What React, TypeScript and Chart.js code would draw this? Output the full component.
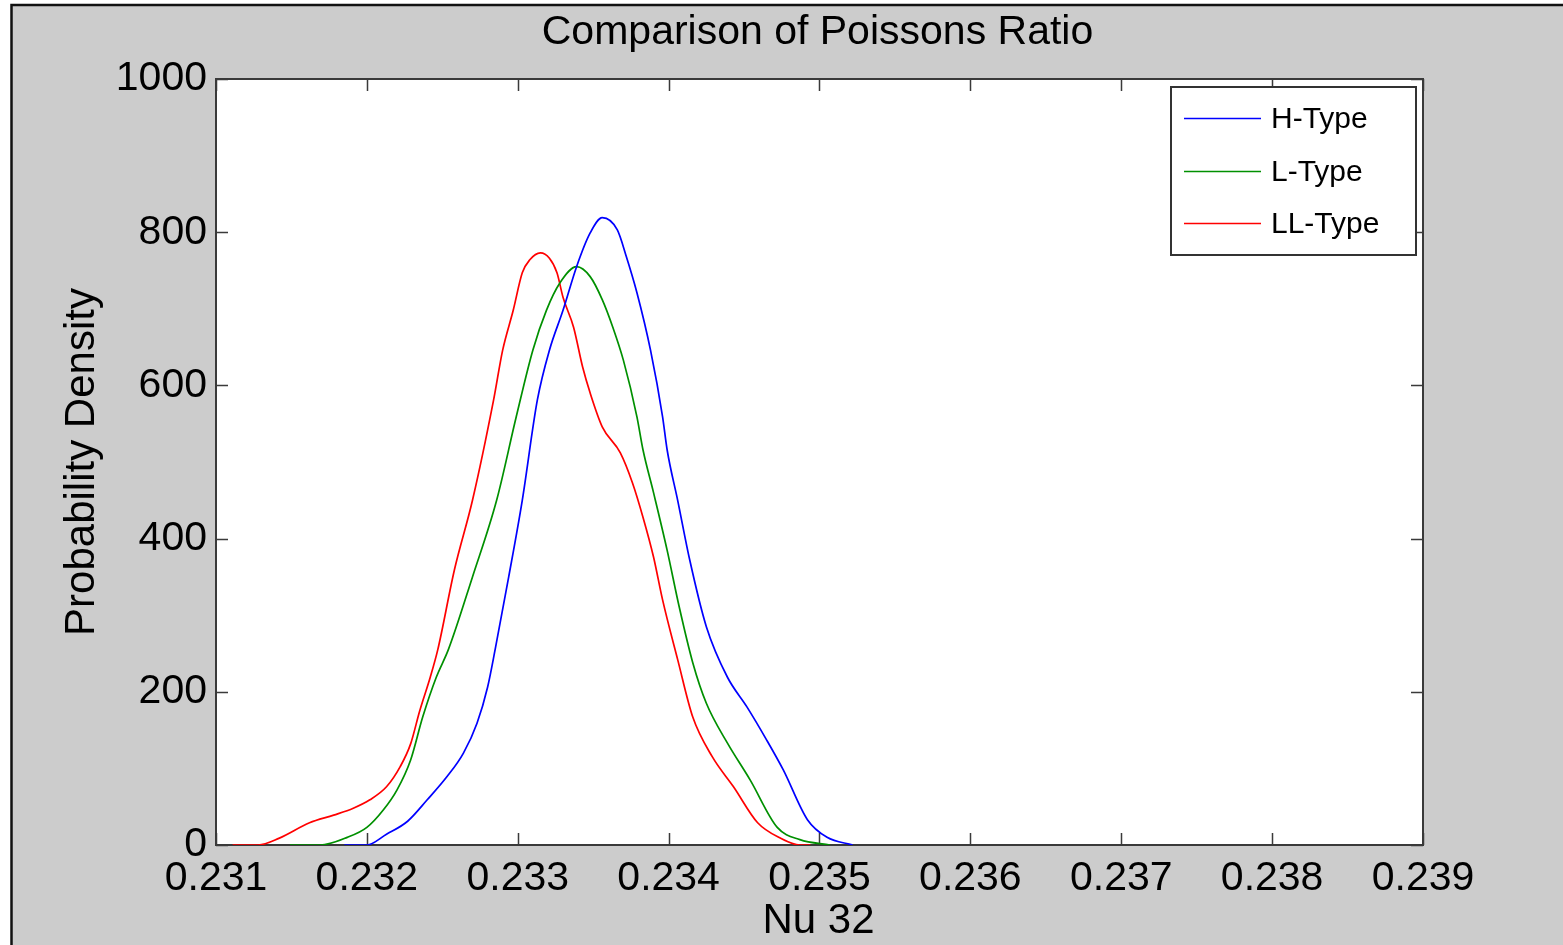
import React, { useEffect, useRef } from 'react';
import { Chart, registerables } from 'chart.js';

Chart.register(...registerables);

const FONT = '"Liberation Sans", Arial, sans-serif';

const chartTitle = 'Comparison of Poissons Ratio';
const xAxisTitle = 'Nu 32';
const yAxisTitle = 'Probability Density';

const xTicks = [0.231, 0.232, 0.233, 0.234, 0.235, 0.236, 0.237, 0.238, 0.239];
const yTicks = [0, 200, 400, 600, 800, 1000];

const seriesLabels = ['H-Type', 'L-Type', 'LL-Type'];
const seriesColors = ['#0000ff', '#009000', '#ff0000'];

const hTypeX = [0.23185, 0.232, 0.23213, 0.23227, 0.2324, 0.23253, 0.23264, 0.23273, 0.2328, 0.23285, 0.23294, 0.23303, 0.23313, 0.23321, 0.2333, 0.23339, 0.23348, 0.23356, 0.23366, 0.23372, 0.23379, 0.23388, 0.23396, 0.23399, 0.23406, 0.23414, 0.23425, 0.23439, 0.23452, 0.23465, 0.23476, 0.23492, 0.23505, 0.23522];
const hTypeY = [0, 0, 14, 31, 59, 89, 120, 159, 206, 255, 350, 450, 581, 646, 698, 755, 799, 819, 803, 768, 721, 646, 559, 516, 450, 372, 285, 219, 180, 137, 98, 33, 10, 0];

const lTypeX = [0.23149, 0.23169, 0.23187, 0.232, 0.23211, 0.2322, 0.23229, 0.23237, 0.23246, 0.23254, 0.2327, 0.23286, 0.23299, 0.2331, 0.23319, 0.23328, 0.23339, 0.23348, 0.23356, 0.23363, 0.2337, 0.23379, 0.23383, 0.2339, 0.23399, 0.23407, 0.23416, 0.23425, 0.23439, 0.23454, 0.23472, 0.23487, 0.23507];
const lTypeY = [0, 0, 10, 23, 46, 72, 111, 167, 219, 255, 350, 450, 559, 646, 698, 734, 755, 742, 712, 676, 633, 559, 516, 460, 385, 311, 238, 185, 133, 85, 23, 7, 0];

const llTypeX = [0.23111, 0.23128, 0.23142, 0.23162, 0.23178, 0.23191, 0.23202, 0.23213, 0.23222, 0.23229, 0.23235, 0.23242, 0.23247, 0.23258, 0.2327, 0.23284, 0.2329, 0.23297, 0.23303, 0.23308, 0.23315, 0.23321, 0.23326, 0.2333, 0.23337, 0.23343, 0.23348, 0.23356, 0.23368, 0.23376, 0.23383, 0.2339, 0.23396, 0.23406, 0.23416, 0.23429, 0.23443, 0.23459, 0.23474, 0.23487, 0.23494];
const llTypeY = [0, 0, 9, 29, 39, 48, 59, 76, 102, 132, 175, 219, 255, 359, 450, 581, 646, 698, 747, 764, 773, 766, 747, 715, 676, 624, 590, 546, 512, 473, 428, 376, 320, 242, 167, 115, 76, 29, 9, 0, 0];

const seriesX = [hTypeX, lTypeX, llTypeX];
const seriesY = [hTypeY, lTypeY, llTypeY];

const framePlugin = {
  id: 'matlabFrame',
  beforeDraw(chart: any) {
    const { ctx, width, height, chartArea } = chart;
    ctx.save();
    ctx.fillStyle = '#ffffff';
    ctx.fillRect(0, 0, width, height);
    ctx.fillStyle = '#cccccc';
    ctx.fillRect(12, 5, width - 12, height - 5);
    ctx.strokeStyle = '#111111';
    ctx.lineWidth = 2.5;
    ctx.beginPath();
    ctx.moveTo(11.5, height);
    ctx.lineTo(11.5, 5);
    ctx.lineTo(width, 5);
    ctx.stroke();
    ctx.fillStyle = '#ffffff';
    ctx.fillRect(chartArea.left, chartArea.top, chartArea.right - chartArea.left, chartArea.bottom - chartArea.top);
    ctx.restore();
  },
  beforeDatasetsDraw(chart: any) {
    const { ctx, chartArea, scales } = chart;
    const { left, right, top, bottom } = chartArea;
    ctx.save();
    ctx.strokeStyle = '#3a3a3a';
    ctx.lineWidth = 2;
    ctx.strokeRect(left, top, right - left, bottom - top);
    ctx.lineWidth = 1.5;
    const tl = 12;
    ctx.beginPath();
    xTicks.forEach((v) => {
      const px = Math.round(scales.x.getPixelForValue(v)) + 0.5;
      ctx.moveTo(px, bottom);
      ctx.lineTo(px, bottom - tl);
      ctx.moveTo(px, top);
      ctx.lineTo(px, top + tl);
    });
    yTicks.forEach((v) => {
      const py = Math.round(scales.y.getPixelForValue(v)) + 0.5;
      ctx.moveTo(left, py);
      ctx.lineTo(left + tl, py);
      ctx.moveTo(right, py);
      ctx.lineTo(right - tl, py);
    });
    ctx.stroke();
    ctx.restore();
  },
  afterDraw(chart: any) {
    const { ctx, chartArea } = chart;
    const cx = (chartArea.left + chartArea.right) / 2;
    const cy = (chartArea.top + chartArea.bottom) / 2;
    ctx.save();
    ctx.fillStyle = '#000000';
    ctx.textAlign = 'center';
    ctx.textBaseline = 'alphabetic';
    ctx.font = `41px ${FONT}`;
    ctx.fillText(chartTitle, cx - 2, 44);
    ctx.font = `42px ${FONT}`;
    ctx.fillText(xAxisTitle, cx - 1, 933);
    ctx.save();
    ctx.translate(94, cy);
    ctx.rotate(-Math.PI / 2);
    ctx.fillText(yAxisTitle, 0, 0);
    ctx.restore();

    // legend
    const bx = 1171, by = 87, bw = 245, bh = 168;
    ctx.fillStyle = '#ffffff';
    ctx.fillRect(bx, by, bw, bh);
    ctx.strokeStyle = '#333333';
    ctx.lineWidth = 2;
    ctx.strokeRect(bx, by, bw, bh);
    const rows = [118, 171, 223];
    ctx.font = `30px ${FONT}`;
    ctx.textAlign = 'left';
    ctx.textBaseline = 'middle';
    chart.data.datasets.forEach((ds: any, i: number) => {
      const y = rows[i];
      ctx.strokeStyle = ds.borderColor;
      ctx.lineWidth = 1.6;
      ctx.beginPath();
      ctx.moveTo(1184, y + 0.5);
      ctx.lineTo(1261, y + 0.5);
      ctx.stroke();
      ctx.fillStyle = '#000000';
      ctx.fillText(ds.label, 1271, y + 1.5);
    });
    ctx.restore();
  },
};

export default function App() {
  const canvasRef = useRef<HTMLCanvasElement | null>(null);

  useEffect(() => {
    if (!canvasRef.current) return;
    Chart.defaults.font.family = FONT;
    const datasets = seriesLabels.map((label, i) => ({
      label,
      data: seriesX[i].map((x, j) => ({ x, y: seriesY[i][j] })),
      borderColor: seriesColors[i],
      backgroundColor: seriesColors[i],
      borderWidth: 1.7,
      pointRadius: 0,
      fill: false,
      cubicInterpolationMode: 'monotone' as const,
    }));
    const chart = new Chart(canvasRef.current, {
      type: 'line',
      data: { datasets },
      options: {
        animation: false,
        responsive: false,
        maintainAspectRatio: false,
        layout: { padding: { top: 79, right: 140, left: 0, bottom: 0 } },
        plugins: {
          legend: { display: false },
          title: { display: false },
          tooltip: { enabled: false },
        },
        scales: {
          x: {
            type: 'linear',
            min: 0.231,
            max: 0.239,
            grid: { display: false, drawTicks: false },
            border: { display: false },
            afterFit: (scale: any) => {
              scale.height = 100;
            },
            afterBuildTicks: (scale: any) => {
              scale.ticks = xTicks.map((v) => ({ value: v }));
            },
            ticks: {
              color: '#000000',
              font: { size: 41, family: FONT },
              padding: 9,
              maxRotation: 0,
              autoSkip: false,
              callback: (v: any) => Number(v).toFixed(3),
            },
          },
          y: {
            type: 'linear',
            min: 0,
            max: 1000,
            grid: { display: false, drawTicks: false },
            border: { display: false },
            afterFit: (scale: any) => {
              scale.width = 216;
            },
            afterBuildTicks: (scale: any) => {
              scale.ticks = yTicks.map((v) => ({ value: v }));
            },
            ticks: {
              color: '#000000',
              font: { size: 41, family: FONT },
              padding: 9,
              callback: (v: any) => String(v),
            },
          },
        },
      },
      plugins: [framePlugin],
    });
    return () => chart.destroy();
  }, []);

  return (
    <div style={{ position: 'fixed', left: 0, top: 0, width: 1563, height: 945 }}>
      <canvas ref={canvasRef} width={1563} height={945} style={{ display: 'block' }} />
    </div>
  );
}
